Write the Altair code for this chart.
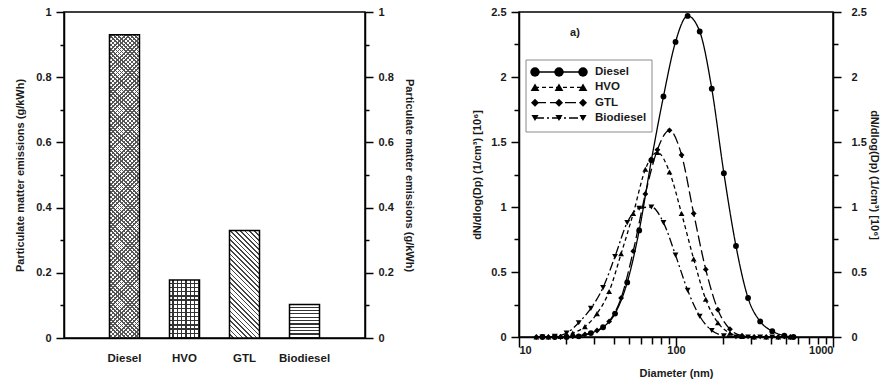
import math
import altair as alt
import pandas as pd

# ---------------- Left panel data ----------------
fuel_names = ["Diesel", "HVO", "GTL", "Biodiesel"]
pm_emissions = [0.93, 0.178, 0.33, 0.103]

# ---------------- Right panel data (particle size distributions) ----------------
diesel_dp = [14.1, 16.9, 20.1, 24.0, 28.7, 34.3, 40.9, 48.9, 58.3, 69.7, 83.2, 99.3,
             118.6, 141.6, 169.0, 201.8, 241.0, 287.7, 343.6, 410.2, 489.8, 560.0]
diesel_n = [0.0, 0.0, 0.0, 0.005, 0.03, 0.075, 0.18, 0.42, 0.82, 1.36, 1.85, 2.27,
            2.47, 2.35, 1.91, 1.26, 0.70, 0.30, 0.12, 0.045, 0.01, 0.0]
hvo_dp = [12.9, 15.4, 18.4, 22.0, 26.3, 31.4, 37.5, 44.7, 53.4, 63.8, 76.1, 90.9,
          108.5, 129.6, 154.7, 184.8, 220.6, 263.4, 314.5, 375.5, 448.3, 535.0]
hvo_n = [0.0, 0.0, 0.005, 0.03, 0.08, 0.18, 0.35, 0.64, 0.95, 1.29, 1.42, 1.27,
         0.95, 0.60, 0.29, 0.11, 0.03, 0.005, 0.0, 0.0, 0.0, 0.0]
gtl_dp = [12.9, 15.4, 18.4, 22.0, 26.3, 31.4, 37.5, 44.7, 53.4, 63.8, 76.1, 90.9,
          108.5, 129.6, 154.7, 184.8, 220.6, 263.4, 314.5, 375.5, 448.3, 535.0]
gtl_n = [0.0, 0.0, 0.0, 0.005, 0.02, 0.05, 0.12, 0.30, 0.66, 1.10, 1.44, 1.59,
         1.40, 0.95, 0.52, 0.21, 0.06, 0.01, 0.0, 0.0, 0.0, 0.0]
bio_dp = [14.1, 16.9, 20.1, 24.0, 28.7, 34.3, 40.9, 48.9, 58.3, 69.7, 83.2, 99.3,
          118.6, 141.6, 169.0, 201.8, 241.0, 287.7, 343.6, 410.2, 489.8]
bio_n = [0.0, 0.005, 0.03, 0.11, 0.22, 0.38, 0.62, 0.88, 0.99, 1.0, 0.88, 0.63,
         0.36, 0.16, 0.05, 0.01, 0.0, 0.0, 0.0, 0.0, 0.0]

left_y_ticks = [0, 0.1, 0.2, 0.3, 0.4, 0.5, 0.6, 0.7, 0.8, 0.9, 1.0]
right_y_ticks = [0, 0.25, 0.5, 0.75, 1.0, 1.25, 1.5, 1.75, 2.0, 2.25, 2.5]
x_ticks = [10, 20, 30, 40, 50, 60, 70, 80, 90, 100, 200, 300, 400, 500, 600, 700, 800, 900, 1000]

FONT = "Liberation Sans"
TXT = "#1a1a1a"

# ---------------- Left panel ----------------
W1, H1 = 301, 326
bar_df = pd.DataFrame({"fuel": fuel_names, "pm": pm_emissions})
BAND_W = 30.0


def stripes(n, frac, dark, light, x1, y1, x2, y2):
    stops = []
    for i in range(n):
        a = i / n
        b = (i + 1 - frac) / n
        c = (i + 1) / n
        stops += [alt.GradientStop(offset=round(a, 5), color=light),
                  alt.GradientStop(offset=round(b, 5), color=light),
                  alt.GradientStop(offset=round(b, 5), color=dark),
                  alt.GradientStop(offset=round(min(c, 1.0), 5), color=dark)]
    return alt.LinearGradient(gradient="linear", stops=stops, x1=x1, y1=y1, x2=x2, y2=y2)


def diag(value, period, frac, dark, light, down=True):
    h = value * H1
    w = BAND_W
    r = h / w
    k = (1 + r) / (1 + r * r)
    n = max(2, int(round((w + h) / math.sqrt(2) / period)))
    if down:
        return stripes(n, frac, dark, light, 0, 1, k, 1 - k * r)
    return stripes(n, frac, dark, light, 0, 0, k, k * r)


CLEAR = "rgba(0,0,0,0)"
xb = alt.X("fuel:N", scale=alt.Scale(domain=fuel_names, paddingInner=0.5, paddingOuter=0.758),
           axis=alt.Axis(title=None, labelAngle=0, ticks=False, labelPadding=14,
                         labelFontSize=11.5))
yb_scale = alt.Scale(domain=[0, 1], nice=False)
yb = alt.Y("pm:Q", scale=yb_scale,
           axis=alt.Axis(values=left_y_ticks,
                         labelExpr="round(datum.value*10) % 2 == 0 ? toString(datum.value) : ''",
                         tickSize={"condition": {"test": "round(datum.value*10) % 2 == 0", "value": 8}, "value": 4},
                         labelPadding=5,
                         title="Particulate matter emissions (g/kWh)", titlePadding=10))

v = dict(zip(fuel_names, pm_emissions))
fills = [
    ("Diesel", diag(v["Diesel"], 3.0, 0.38, "#555555", "#ffffff", True)),
    ("Diesel", diag(v["Diesel"], 3.0, 0.38, "#555555", CLEAR, False)),
    ("HVO", stripes(7, 0.3, "#333333", "#ffffff", 0, 0, 1, 0)),
    ("HVO", stripes(14, 0.3, "#333333", CLEAR, 0, 0, 0, 1)),
    ("GTL", diag(v["GTL"], 3.3, 0.35, "#444444", "#ffffff", True)),
    ("Biodiesel", stripes(10, 0.35, "#333333", "#ffffff", 0, 0, 0, 1)),
]
bar_layers = []
for cat, grad in fills:
    bar_layers.append(
        alt.Chart(bar_df).transform_filter(alt.datum.fuel == cat)
        .mark_bar(fill=grad, strokeWidth=0).encode(x=xb, y=yb)
    )
outline = alt.Chart(bar_df).mark_bar(fillOpacity=0, stroke="black", strokeWidth=1.5).encode(x=xb, y=yb)
mirror_left = alt.Chart(bar_df).mark_point(opacity=0).encode(
    y=alt.Y("pm:Q", scale=yb_scale,
            axis=alt.Axis(orient="right", values=left_y_ticks,
                          labelExpr="round(datum.value*10) % 2 == 0 ? toString(datum.value) : ''",
                          tickSize={"condition": {"test": "round(datum.value*10) % 2 == 0", "value": 8}, "value": 4},
                          labelPadding=5,
                          title="Particulate matter emissions (g/kWh)", titlePadding=10))
)
left = alt.layer(alt.layer(*bar_layers, outline), mirror_left).resolve_scale(y="independent").properties(
    width=W1, height=H1)

# ---------------- Right panel ----------------
W2, H2 = 314, 325
rows = []
for name, dps, ns in [("Diesel", diesel_dp, diesel_n), ("HVO", hvo_dp, hvo_n),
                      ("GTL", gtl_dp, gtl_n), ("Biodiesel", bio_dp, bio_n)]:
    for d, n in zip(dps, ns):
        rows.append({"fuel": name, "dp": d, "n": n})
psd_df = pd.DataFrame(rows)

dash_scale = alt.Scale(domain=fuel_names, range=[[1, 0], [4, 3], [11, 4], [9, 3, 2, 3]])
shape_scale = alt.Scale(domain=fuel_names, range=["circle", "triangle-up", "diamond", "triangle-down"])

xr = alt.X("dp:Q", scale=alt.Scale(type="log", domain=[10, 1000], nice=False),
           axis=alt.Axis(values=x_ticks,
                         labelExpr="(datum.value == 10 || datum.value == 100 || datum.value == 1000) ? toString(datum.value) : ''",
                         tickSize={"condition": {"test": "datum.value == 10 || datum.value == 100 || datum.value == 1000", "value": 10}, "value": 7},
                         labelPadding=-3, title="Diameter (nm)", titlePadding=12))
yr_scale = alt.Scale(domain=[0, 2.5], nice=False)
ytitle = "dN/dlog(Dp) (1/cm\u00b3) [10\u2076]"
yr = alt.Y("n:Q", scale=yr_scale,
           axis=alt.Axis(values=right_y_ticks,
                         labelExpr="datum.value % 0.5 == 0 ? toString(datum.value) : ''",
                         tickSize={"condition": {"test": "datum.value % 0.5 == 0", "value": 8}, "value": 5},
                         labelPadding=5, title=ytitle, titlePadding=8))

lines = alt.Chart(psd_df).mark_line(interpolate="monotone", color="black", strokeWidth=1.3).encode(
    x=xr, y=yr, strokeDash=alt.StrokeDash("fuel:N", scale=dash_scale, legend=None), detail="fuel:N")
points = alt.Chart(psd_df).mark_point(filled=True, color="black", opacity=1, size=34).encode(
    x=xr, y=yr, shape=alt.Shape("fuel:N", scale=shape_scale, legend=None))
data_layer = alt.layer(lines, points)

# legend (drawn in its own pixel-range scales)
leg_rows = []
for i, name in enumerate(fuel_names):
    for j in range(3):
        leg_rows.append({"fuel": name, "lx": j, "ly": i})
leg_df = pd.DataFrame(leg_rows)
lab_df = pd.DataFrame({"fuel": fuel_names, "ly": list(range(len(fuel_names)))})
lxs = alt.X("lx:Q", scale=alt.Scale(domain=[0, 2], range=[16, 64]), axis=None)
lys = alt.Y("ly:Q", scale=alt.Scale(domain=[0, 3], range=[60, 106]), axis=None)
box = alt.Chart(pd.DataFrame({"k": [0]})).mark_rect(fill="white", stroke="#8a8a8a", strokeWidth=1).encode(
    x=alt.value(7), x2=alt.value(133), y=alt.value(48), y2=alt.value(120))
leg_lines = alt.Chart(leg_df).mark_line(color="black", strokeWidth=1.3).encode(
    x=lxs, y=lys, strokeDash=alt.StrokeDash("fuel:N", scale=dash_scale, legend=None), detail="fuel:N")
leg_pts = alt.Chart(leg_df).mark_point(filled=True, color="black", opacity=1).encode(
    x=lxs, y=lys, shape=alt.Shape("fuel:N", scale=shape_scale, legend=None),
    size=alt.Size("fuel:N", scale=alt.Scale(domain=fuel_names, range=[90, 50, 55, 55]), legend=None))
leg_txt = alt.Chart(lab_df).mark_text(align="left", baseline="middle", font=FONT, fontWeight="bold",
                                      fontSize=11.5, color=TXT).encode(
    x=alt.value(76), y=lys, text="fuel:N")
a_txt = alt.Chart(pd.DataFrame({"k": [0]})).mark_text(text="a)", font=FONT, fontWeight="bold", fontSize=11,
                                                       color=TXT).encode(x=alt.value(56), y=alt.value(21))
legend_layer = alt.layer(box, leg_lines, leg_pts, leg_txt, a_txt)

mirror_right = alt.Chart(psd_df).mark_point(opacity=0).encode(
    y=alt.Y("n:Q", scale=yr_scale,
            axis=alt.Axis(orient="right", values=right_y_ticks,
                          labelExpr="datum.value % 0.5 == 0 ? toString(datum.value) : ''",
                          tickSize={"condition": {"test": "datum.value % 0.5 == 0", "value": 8}, "value": 5},
                          labelPadding=10, title=ytitle, titlePadding=2)))

right = alt.layer(data_layer, legend_layer, mirror_right).resolve_scale(
    x="independent", y="independent").properties(width=W2, height=H2)

chart = alt.hconcat(left, right, spacing=54).properties(
    padding={"left": 13, "top": 5, "right": 0, "bottom": 0}, background="white"
).configure_view(stroke="black", strokeWidth=1.5).configure_axis(
    domainColor="black", domainWidth=1.5, tickColor="black", tickWidth=1.5, grid=False,
    labelFont=FONT, labelFontWeight="bold", labelFontSize=11, labelColor=TXT,
    titleFont=FONT, titleFontWeight="bold", titleFontSize=11, titleColor=TXT)

chart.save("out.html", embed_options={"renderer": "svg", "actions": False})
